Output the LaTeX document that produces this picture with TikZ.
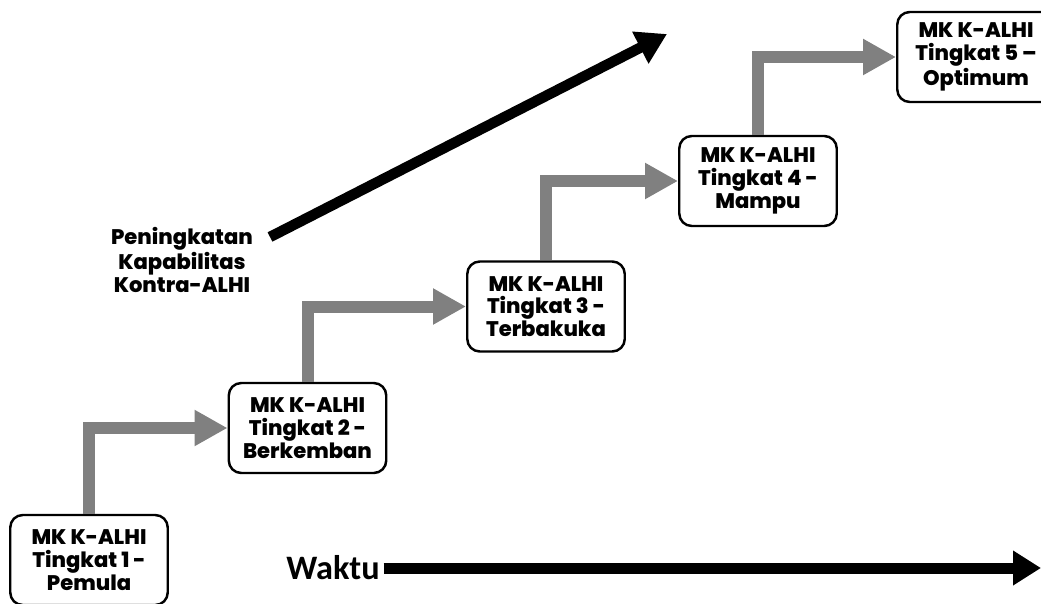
\documentclass[tikz,border=0pt]{standalone}
\usepackage{fontspec}
\setsansfont{Poppins}[BoldFont={* ExtraBold}]
\newfontfamily\waktufont{Carlito}
\usetikzlibrary{positioning, arrows.meta}
\tikzstyle{grey arrow} = [line width=0.24cm, draw=black!50, -{Triangle[length=0.66cm, width=0.68cm]}]
\tikzstyle{thick arrow} = [line width=0.21cm, -{Triangle[length=0.6cm, width=0.68cm]}]

\begin{document}
\begin{tikzpicture}[
			lvl/.style={draw, line width=1.4pt, rounded corners=0.25cm, fill=white, align=center, minimum width=3.15cm, minimum height=1.8cm, inner sep=2pt, font=\sffamily\bfseries\fontsize{12}{13}\selectfont},
			lbl/.style={align=center, font=\sffamily\bfseries\fontsize{12}{13}\selectfont}
			]
			\useasboundingbox (0,0) rectangle (20.82,12.06);
			
			\node[lvl] (lvl1) at (1.78,0.86) {MK K-ALHI\\Tingkat 1 -\\Pemula};
			\node[lvl] (lvl2) at (6.15,3.50) {MK K-ALHI\\Tingkat 2 -\\Berkemban};
			\node[lvl] (lvl3) at (10.92,5.93) {MK K-ALHI\\Tingkat 3 -\\Terbakuka};
			\node[lvl] (lvl4) at (15.16,8.44) {MK K-ALHI\\Tingkat 4 -\\Mampu};
			\node[lvl] (lvl5) at (19.52,10.92) {MK K-ALHI\\Tingkat 5 --\\Optimum};
			
			\draw[grey arrow] (lvl1.north) |- (lvl2.west);
			\draw[grey arrow] (lvl2.north) |- (lvl3.west);
			\draw[grey arrow] (lvl3.north) |- (lvl4.west);
			\draw[grey arrow] (lvl4.north) |- (lvl5.west);
			
			% capability axis
			\node[lbl] (cap) at (3.64,6.86) {Peningkatan\\Kapabilitas\\Kontra-ALHI};
			\coordinate (capfrom) at (5.40,7.32);
			\coordinate (capto) at (13.34,11.38);
			\draw[thick arrow] (capfrom) -- (capto);
			
			% time axis
			\node[inner sep=0pt, font=\waktufont\bfseries\fontsize{19.5}{21}\selectfont] (waktu) at (6.66,0.70) {Waktu};
			\coordinate (tend) at (20.82,0.70);
			\draw[thick arrow, line width=0.22cm, -{Triangle[length=0.56cm, width=0.66cm]}, shorten <=-1pt] ([xshift=3pt]waktu.east) -- (tend);
		\end{tikzpicture}
\end{document}
